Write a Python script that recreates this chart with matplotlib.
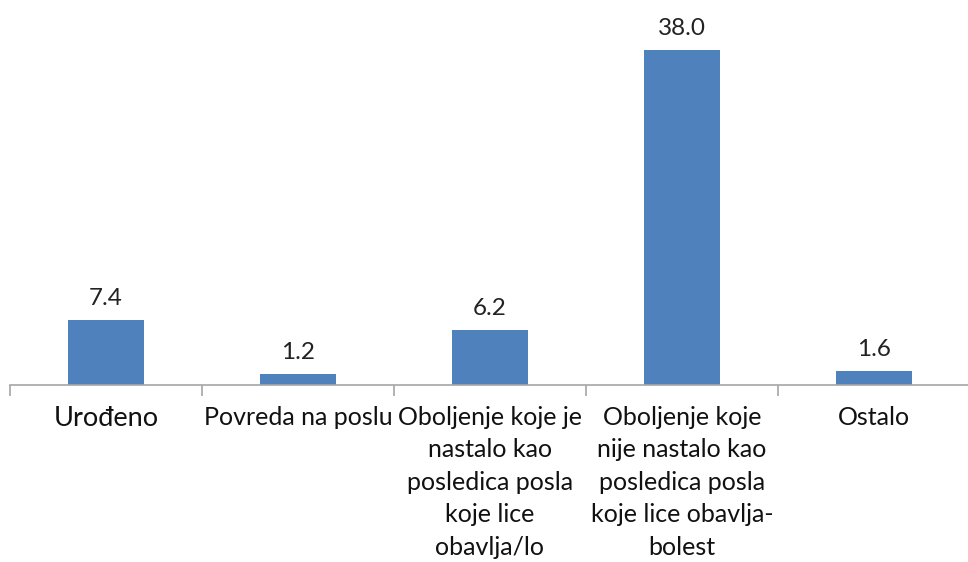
import numpy as np
import matplotlib.pyplot as plt

categories = [
    'Urođeno',
    'Povreda na poslu',
    'Oboljenje koje je\nnastalo kao\nposledica posla\nkoje lice\nobavlja/lo',
    'Oboljenje koje\nnije nastalo kao\nposledica posla\nkoje lice obavlja-\nbolest',
    'Ostalo',
]
values = [7.4, 1.2, 6.2, 38.0, 1.6]

plt.rcParams['font.family'] = ['Lato', 'DejaVu Sans']

fig = plt.figure(figsize=(9.68, 5.62), dpi=100)
ax = fig.add_axes([10 / 968, (562 - 385) / 562, 960 / 968, (385 - 50) / 562])

x = np.arange(len(categories))
ax.bar(x, values, width=0.4, color='#4F81BD', zorder=2)

for xi, v in zip(x, values):
    ax.annotate(f'{v:.1f}', (xi, v), xytext=(0, 8), textcoords='offset points',
                ha='center', va='bottom', fontsize=17.5, color='#222222')

ax.set_xlim(-0.5, len(categories) - 0.5)
ax.set_ylim(0, 38)

for side in ['top', 'right', 'left']:
    ax.spines[side].set_visible(False)
ax.spines['bottom'].set_color('#A6A6A6')
ax.spines['bottom'].set_linewidth(1.2)
ax.set_yticks([])

ax.set_xticks(x)
labels = ax.set_xticklabels(categories, fontsize=18, linespacing=1.5, va='top', color='#111111')
labels[0].set_fontsize(19.5)
ax.tick_params(axis='x', which='major', length=0, pad=15)
ax.set_xticks(np.arange(len(categories) + 1) - 0.5, minor=True)
ax.tick_params(axis='x', which='minor', length=8, width=1.2, color='#A6A6A6', direction='out')

fig.savefig('out.png', dpi=100)
